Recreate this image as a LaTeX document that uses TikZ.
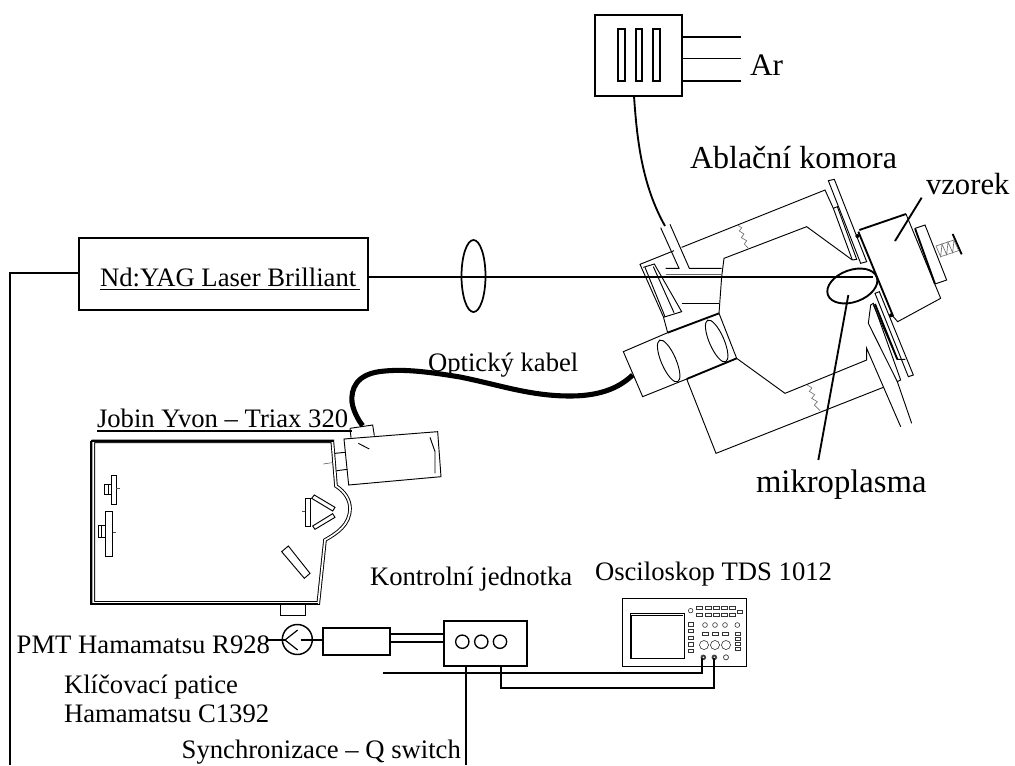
\documentclass[tikz,border=0pt]{standalone}
\usepackage{fontspec}
\usetikzlibrary{shapes.geometric}
\setmainfont{Liberation Serif}
\newcommand{\fsz}[1]{\fontsize{#1}{#1}\selectfont}
\tikzset{
  wire/.style={line width=1.4pt,black},
  thin line/.style={line width=0.7pt,black},
  thick line/.style={line width=1.4pt,black},
  squiggle/.style={line width=0.5pt,black!55},
  label/.style={anchor=base west,inner sep=0pt,outer sep=0pt,font=\fsz{20}},
  box/.style={draw,line width=1.3pt,rectangle,inner sep=0pt,outer sep=0pt},
  spectro/.style={draw=black,line width=0.7pt,double=white,double distance=1.3pt},
  btn/.style={line width=0.45pt,black!80},
}
\begin{document}
\begin{tikzpicture}[x=0.75pt,y=-0.75pt]
\useasboundingbox (0,0) rectangle (1015,765);

% ---- Gas box
\node[box,minimum width=65pt,minimum height=60.5pt] (gas) at (638.5,55.5) {};
\foreach \n/\xx in {a/621.5,b/639,c/656.5}{
  \node[box,minimum width=5pt,minimum height=39pt] (slit\n) at (\xx,55) {};
}
\coordinate (ar1) at (741,37);
\coordinate (ar2) at (741,58.5);
\coordinate (ar3) at (741,81);
\draw[wire] (gas.east|-ar1) -- (ar1);
\draw[wire] (gas.east|-ar2) -- (ar2);
\draw[wire] (gas.east|-ar3) -- (ar3);
\node[label,font=\fsz{23.5}] (ar) at (750,75) {Ar};
\coordinate (gasin) at (665,226);
\draw[wire] (634,96) .. controls (637,140) and (642,185) .. (gasin);

% ---- Laser
\node[box,minimum width=216.75pt,minimum height=54pt] (laser) at (223.5,274) {};
\node[label] (laserlabel) at (100,286) {Nd:YAG Laser Brilliant};
\draw[line width=1.2pt] (100,289.5) -- (360,289.5);
\coordinate (beamend) at (873,277);
\node[draw,ellipse,line width=1.3pt,minimum width=18pt,minimum height=54pt,inner sep=0pt] (lens) at (473.5,276) {};
\draw[wire] (laser.east|-beamend) -- (beamend);
\coordinate (qleft) at (10,273);
\coordinate (qbottom) at (10,765);
\draw[wire] (laser.west|-qleft) -- (qleft) -- (qbottom);

% ---- Chamber (coordinates of a 3x crop)
\begin{scope}[shift={(600,160)},x=0.25pt,y=-0.25pt]
  \draw[thin line] (222,272) -- (120,313) -- (190,470) -- (203,518);
  \draw[thin line] (245,262) -- (675,90) -- (700,145) -- (757,300);
  \draw[thin line] (685,62) -- (703,58) -- (800,305) -- (782,310) -- cycle;
  \draw[thin line] (700,145) -- (712,140) -- (770,298) -- (757,300);
  \draw[thin line] (357,460) -- (365,350) -- (372,295) -- (620,200) -- (757,300);
  % gas tube
  \draw[thin line] (182,203) -- (237,325) -- (197,325);
  \draw[thin line] (210,193) -- (268,325) -- (365,325);
  \draw[line width=0.4pt,black!60] (197,343) -- (362,343);
  \draw[thin line] (245,430) -- (357,430);
  % window
  \draw[thin line] (130,322) -- (163,312) -- (245,455) -- (190,472);
  \draw[thin line] (135,322) -- (195,470);
  \draw[thin line] (160,320) -- (222,458);
  % collimator
  \draw[thin line] (203,518) -- (70,575) -- (128,710) -- (260,657);
  \draw[thick line] (203,518) -- (357,460);
  \draw[thick line] (260,657) -- (410,595);
  \draw[thin line] (357,460) -- (410,595);
  \draw[thin line,shift={(206,603)},rotate=-66.6] (0,0) ellipse [x radius=17pt,y radius=5.5pt];
  \draw[thin line,shift={(350,543)},rotate=-66.6] (0,0) ellipse [x radius=17pt,y radius=5.5pt];
  % lower body
  \draw[thin line] (260,657) -- (348,880) -- (850,682);
  \draw[thin line] (410,595) -- (555,700) -- (800,600) -- (800,565) -- (902,800);
  \draw[thin line] (892,665) -- (935,790);
  \draw[thin line] (805,490) -- (892,665) -- (902,660) -- (820,430) -- (812,435) -- (805,490);
  \draw[thin line] (825,400) -- (838,395) -- (940,645) -- (925,650) -- cycle;
  \draw[thin line] (820,435) -- (892,598) -- (916,598);
  \draw[thick line] (825,432) -- (892,598);
  % sample holder
  \draw[thin line] (880,470) -- (893,485) -- (1022,415) -- (918,162);
  \draw[thick line] (778,210) -- (918,162);
  \draw[thick line] (775,215) -- (880,470);
  \fill (772,228) circle (1.5pt);
  \fill (873,466) circle (1.5pt);
  \draw[thin line] (945,205) -- (975,195) -- (1040,360) -- (1005,372);
  \draw[thick line] (945,205) -- (1005,372);
  \draw[thick line] (1058,222) -- (1085,283);
  % spring
  \draw[squiggle] (1008,258) -- (1062,240) (1022,290) -- (1076,272);
  \draw[squiggle] (1008,258) -- (1022,290) -- (1026,252) -- (1040,284) -- (1044,246) -- (1058,278) -- (1062,240) -- (1076,272);
  % bellows squiggles
  \draw[squiggle] (412,195) -- (425,203) -- (418,213) -- (432,222) -- (424,233) -- (440,242) -- (433,252) -- (445,265);
  \draw[squiggle] (622,675) -- (636,684) -- (628,694) -- (644,704) -- (635,715) -- (652,725) -- (643,735) -- (660,752);
  % plasma and pointers
  \draw[line width=1.4pt,shift={(757,378)},rotate=20] (0,0) ellipse [x radius=19.5pt,y radius=12pt];
  \coordinate (plasma) at (745,405);
  \coordinate (plasmatxt) at (655,900);
  \draw[wire] (plasma) -- (plasmatxt);
  \coordinate (samplept) at (885,243);
  \coordinate (sampletxt) at (965,113);
  \draw[wire] (samplept) -- (sampletxt);
  \coordinate (fibre) at (98,645);
\end{scope}
\node[label,font=\fsz{24}] (abl) at (690,168) {Ablační komora};
\node[label,font=\fsz{23}] (vz) at (926,194) {vzorek};
\node[label,font=\fsz{24.5}] (mik) at (756,492) {mikroplasma};

% ---- Spectrometer
\begin{scope}[shift={(70,400)},x=0.25pt,y=-0.25pt]
  \draw[spectro] (70,124) -- (787,124) -- (798,258) .. controls (825,275) and (840,300) .. (840,325)
     .. controls (840,375) and (800,400) .. (765,420) -- (745,609) -- (70,609) -- cycle;
  \draw[line width=1.3pt] (64,122) -- (64,612) -- (745,612);
  \draw[line width=1.3pt] (64,122) -- (792,122);
  % detector head
  \draw[thin line,fill=white] (822,117) -- (1103,95) -- (1113,230) -- (836,255) -- cycle;
  \draw[thin line] (840,85) -- (908,75) -- (913,107);
  \draw[thin line] (840,85) -- (843,113);
  \draw[thin line] (795,160) -- (825,157);
  \draw[thin line] (800,212) -- (832,208);
  \draw[thin line] (865,130) -- (898,147);
  \draw[thin line] (1080,112) -- (1095,155) -- (1095,220);
  \draw[line width=0.4pt,black!70] (760,192) -- (785,188);
  % optics
  \draw[thin line] (124,227) rectangle (138,312);
  \draw[thin line] (104,254) rectangle (124,284);
  \draw[thin line] (114,254) -- (114,284);
  \draw[line width=0.4pt,black!70] (138,265) -- (150,265);
  \draw[thin line] (105,333) rectangle (128,468);
  \draw[thin line] (85,375) rectangle (105,412);
  \draw[thin line] (95,375) -- (95,412);
  \draw[line width=0.4pt,black!70] (128,397) -- (138,397);
  \draw[thin line] (706,295) rectangle (720,380);
  \draw[line width=0.4pt,black!70] (697,334) -- (706,334);
  \draw[thin line] (725,295) -- (733,285) -- (795,322) -- (788,333) -- cycle;
  \draw[thin line] (728,378) -- (735,388) -- (795,352) -- (788,341) -- cycle;
  \draw[thin line] (635,455) -- (655,438) -- (720,520) -- (703,535) -- cycle;
  \draw[thin line] (632,612) -- (632,645) -- (705,645) -- (705,612);
  \coordinate (headtop) at (878,77);
\end{scope}
\node[label] (jy) at (97,427) {Jobin Yvon – Triax 320};
\draw[line width=1.3pt] (97,431) -- (352,431);

% ---- Optical fibre
\draw[line width=3.8pt,line cap=butt] (fibre)
   .. controls (622,385) and (605,396) .. (570,396)
   .. controls (530,396) and (500,385) .. (460,377)
   .. controls (430,372) and (405,369) .. (385,371)
   .. controls (355,373) and (351,390) .. (352,402)
   .. controls (353,410) and (358,420) .. (headtop);
\node[label] (fib) at (428,371) {Optický kabel};

% ---- PMT and control unit
\node[label] (pmtl) at (16.7,653.3) {PMT Hamamatsu R928};
\node[draw,circle,line width=1.1pt,minimum size=22.5pt,inner sep=0pt] (pmt) at (297.3,639.5) {};
\draw[line width=0.9pt] (297.7,630) -- (285,640) -- (297.7,650);
\coordinate (pmtin) at (266,640);
\coordinate (pmtapex) at (285,640);
\draw[wire] (pmtin) -- (pmtapex);
\node[box,minimum width=50.5pt,minimum height=20pt] (socket) at (356.4,641.3) {};
\coordinate (pmtc) at (300.7,640);
\draw[wire] (pmtc) -- (socket.west|-pmtc);
\node[box,minimum width=61.8pt,minimum height=34pt] (ctrl) at (485.5,643.4) {};
\coordinate (d1) at (444.3,634);
\coordinate (d2) at (444.3,641.7);
\draw[wire] (socket.east|-d1) -- (d1);
\draw[wire] (socket.east|-d2) -- (d2);
\foreach \n/\xx in {a/462.3,b/481.3,c/500}{
  \node[draw,circle,line width=1pt,minimum size=10pt,inner sep=0pt] (led\n) at (\xx,641.7) {};
}
\node[label] (kj) at (370,585) {Kontrolní jednotka};
\node[label] (kp1) at (64,693) {Klíčovací patice};
\node[label] (kp2) at (64,722.7) {Hamamatsu C1392};
\node[label] (sync) at (181.7,758) {Synchronizace – Q switch};
\coordinate (qtop) at (466,666);
\coordinate (qend) at (466,765);
\draw[wire] (qtop) -- (qend);

% ---- Oscilloscope
\node[label] (osl) at (595,580.7) {Osciloskop TDS 1012};
\node[draw,line width=0.7pt,rectangle,minimum width=93.25pt,minimum height=51.25pt,inner sep=0pt] (osc) at (684.7,632.5) {};
\begin{scope}[shift={(570,590)},x=0.25pt,y=-0.25pt]
  \draw[line width=0.7pt] (180,70) rectangle (343,205);
  \draw[line width=0.4pt] (185,75) -- (338,75) (185,75) -- (185,205);
  \draw[btn] (362,62) circle (1.7pt);
  \foreach \xx in {378,405,430,455,478}{
    \draw[btn] (\xx,50) rectangle ++(18,9);
    \draw[btn] (\xx,70) rectangle ++(18,9);
  }
  \draw[btn] (503,60) rectangle (518,70);
  \foreach \yy in {98,118,138,158,178}{\draw[btn] (355,\yy) rectangle ++(16,10);}
  \foreach \xx in {405,435,465,502}{\draw[btn] (\xx,105) circle (1.8pt);}
  \foreach \xx in {398,428,458,495}{\draw[btn] (\xx,127) rectangle ++(16,10);}
  \foreach \yy in {142,157,172}{\draw[btn] (495,\yy) rectangle ++(16,10);}
  \foreach \xx in {402,435,468}{\draw[btn] (\xx,165) circle (3.4pt);}
  \foreach \xx in {400,433}{\fill[black!75] (\xx,202) circle (2.1pt);\fill[white] (\xx,202) circle (0.6pt);}
  \draw[line width=0.6pt,black!70] (468,202) circle (1.9pt);
  \coordinate (ch1) at (397,205);
  \coordinate (ch2) at (433,205);
\end{scope}
\coordinate (w1s) at (382.7,673.3);
\draw[wire] (w1s) -- (w1s-|ch1) -- (ch1);
\coordinate (w2a) at (500.7,666);
\coordinate (w2b) at (500.7,687.7);
\draw[wire] (w2a) -- (w2b) -- (w2b-|ch2) -- (ch2);
\end{tikzpicture}
\end{document}
